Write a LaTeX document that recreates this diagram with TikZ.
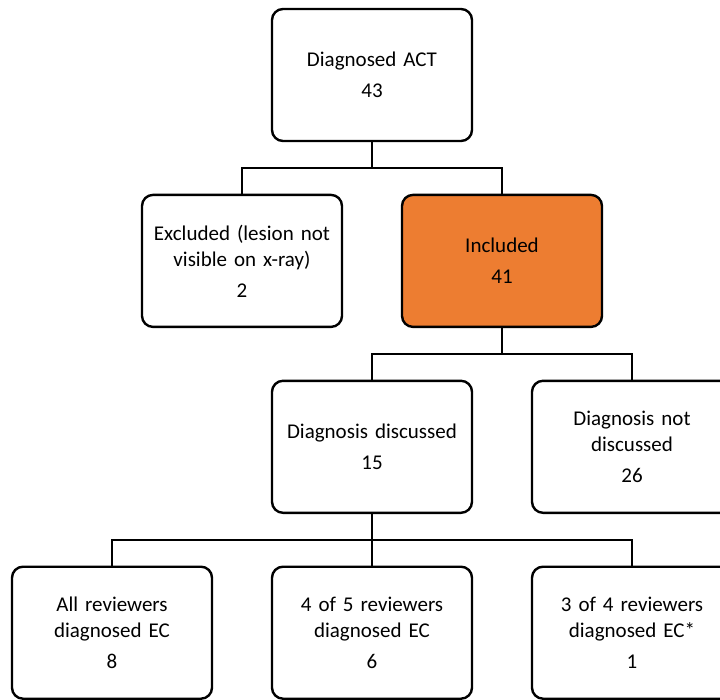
\documentclass[tikz,border=0pt]{standalone}
\usepackage{fontspec}
\setmainfont{Carlito}
\usepackage{tikz}
\usetikzlibrary{positioning}
\definecolor{incorange}{HTML}{ED7D31}

\begin{document}
\begin{tikzpicture}[
    x=1pt, y=1pt,
    node distance=51.5pt,
    box/.style={rectangle, draw, line width=2.4pt, rounded corners=11pt,
        minimum width=200pt, minimum height=132pt, text width=185pt,
        align=center, font=\fontsize{21}{26}\selectfont},
    link/.style={line width=2.4pt}
]
\useasboundingbox (0,0) rectangle (720,-699);
\node[box] (act) at (372,-75) {Diagnosed ACT\\[5pt] 43};
\node[box] (excl) [below=of act, xshift=-130pt] {Excluded (lesion not\\visible on x-ray)\\[5pt] 2};
\node[box, fill=incorange] (incl) [below=of act, xshift=130pt] {Included\\[5pt] 41};
\node[box] (disc) [below=of incl, xshift=-130pt] {Diagnosis discussed\\[5pt] 15};
\node[box] (notdisc) [below=of incl, xshift=130pt] {Diagnosis not\\discussed\\[5pt] 26};
\node[box] (allrev) [below=of disc, xshift=-260pt] {All reviewers\\diagnosed EC\\[5pt] 8};
\node[box] (fourrev) [below=of disc] {4 of 5 reviewers\\diagnosed EC\\[5pt] 6};
\node[box] (threerev) [below=of disc, xshift=260pt] {3 of 4 reviewers\\diagnosed EC*\\[5pt] 1};

\draw[link] (act.south) -- ++(0,-26) -| (excl.north);
\draw[link] (act.south) -- ++(0,-26) -| (incl.north);
\draw[link] (incl.south) -- ++(0,-26) -| (disc.north);
\draw[link] (incl.south) -- ++(0,-26) -| (notdisc.north);
\draw[link] (disc.south) -- ++(0,-26) -| (allrev.north);
\draw[link] (disc.south) -- (fourrev.north);
\draw[link] (disc.south) -- ++(0,-26) -| (threerev.north);
\end{tikzpicture}
\end{document}
